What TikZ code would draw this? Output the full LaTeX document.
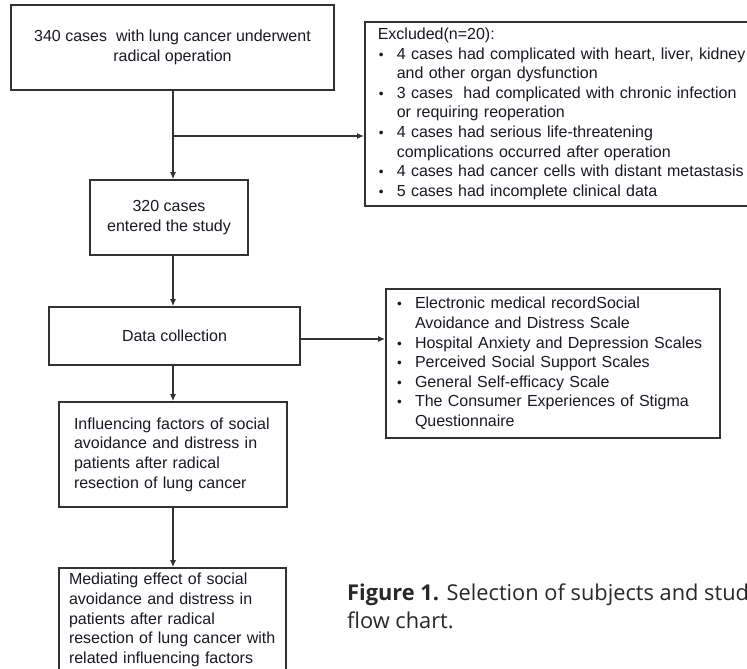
\documentclass[tikz,border=0pt]{standalone}
\usepackage{fontspec}
\setmainfont{Liberation Sans}
\newfontfamily\capfont{Open Sans}
\usetikzlibrary{arrows.meta}
\definecolor{boxline}{RGB}{50,50,50}
\definecolor{txt}{RGB}{25,25,35}
\definecolor{captxt}{RGB}{40,40,40}
\newcommand{\bul}{\makebox[19pt][l]{\hspace{1pt}\scalebox{0.85}{•}}}
\newcommand{\ind}{\hspace*{19pt}}
\tikzset{
  box/.style={draw=boxline, line width=1.6pt, rectangle, inner sep=0pt, text=txt,
    font=\fontsize{16}{19.6}\selectfont, align=center},
  lbox/.style={box, align=left},
  conn/.style={draw=boxline, line width=1.6pt, -{Latex[length=7pt,width=6pt]}}
}
\begin{document}
\begin{tikzpicture}[x=1pt,y=-1pt]
\useasboundingbox (0,0) rectangle (747,669);
\clip (0,0) rectangle (747,669);
\fill[white] (0,0) rectangle (747,669);

\node[box, minimum width=323pt, minimum height=85pt] (b1) at (172.5,47.5)
  {340 cases\ \ with lung cancer underwent\\radical operation};

\node[lbox, anchor=north west, minimum width=400pt, minimum height=184pt, text width=374pt] (exc) at (364,21)
  {Excluded(n=20):\\
   \bul 4 cases had complicated with heart, liver, kidney\\
   \ind and other organ dysfunction\\
   \bul 3 cases\ \ had complicated with chronic infection\\
   \ind or requiring reoperation\\
   \bul 4 cases had serious life-threatening\\
   \ind complications occurred after operation\\
   \bul 4 cases had cancer cells with distant metastasis\\
   \bul 5 cases had incomplete clinical data};

\node[box, minimum width=158pt, minimum height=75pt] (b2) at (169,217.5)
  {320 cases\\entered the study};

\node[box, minimum width=251pt, minimum height=58pt] (dc) at (174.5,336)
  {Data collection};

\node[lbox, minimum width=334pt, minimum height=149pt, text width=314pt] (dl) at (553,363.5)
  {\bul Electronic medical recordSocial\\
   \ind Avoidance and Distress Scale\\
   \bul Hospital Anxiety and Depression Scales\\
   \bul Perceived Social Support Scales\\
   \bul General Self-efficacy Scale\\
   \bul The Consumer Experiences of Stigma\\
   \ind Questionnaire};

\node[lbox, minimum width=228pt, minimum height=105pt, text width=198pt] (b3) at (173,454.5)
  {Influencing factors of social\\
   avoidance and distress in\\
   patients after radical\\
   resection of lung cancer};

\node[lbox, minimum width=227pt, minimum height=104pt, text width=207pt] (b4) at (172.5,620)
  {Mediating effect of social\\
   avoidance and distress in\\
   patients after radical\\
   resection of lung cancer with\\
   related influencing factors};

\node[anchor=north west, inner sep=0pt, align=left, text=captxt,
  font=\capfont\fontsize{21.8}{28}\selectfont] (cap) at (347,584)
  {\textbf{Figure 1.} Selection of subjects and study\\flow chart.};

\coordinate (j) at (173,136);
\draw[conn] (b1.south -| j) -- (b2.north -| j);
\draw[conn] (j) -- (exc.west |- j);
\draw[conn] (b2.south -| j) -- (dc.north -| j);
\draw[conn] ([yshift=-3pt]dc.east) -- ([yshift=-3pt]dc.east -| dl.west);
\draw[conn] (dc.south -| j) -- (b3.north -| j);
\draw[conn] (b3.south -| j) -- (b4.north -| j);
\end{tikzpicture}
\end{document}
